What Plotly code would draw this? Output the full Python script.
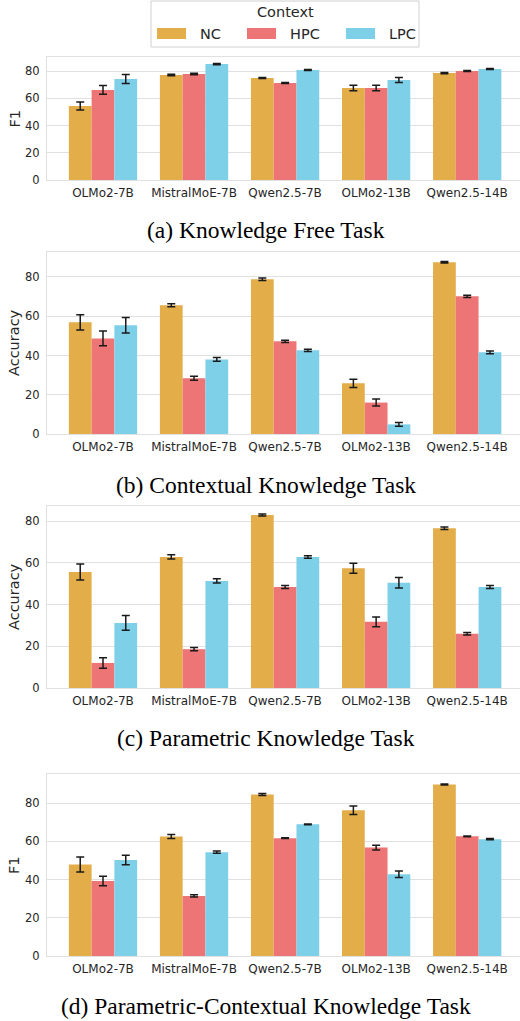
import plotly.graph_objects as go

models = ["OLMo2-7B", "MistralMoE-7B", "Qwen2.5-7B", "OLMo2-13B", "Qwen2.5-14B"]
series = ["NC", "HPC", "LPC"]
colors = {"NC": "#E3AE4A", "HPC": "#ED7576", "LPC": "#7ECFE8"}

# (a) Knowledge Free Task - F1
a_nc = [54.3, 77.1, 74.9, 67.5, 78.5]
a_nc_err = [3.0, 0.6, 0.4, 2.0, 0.5]
a_hpc = [66.1, 77.8, 71.2, 67.5, 80.0]
a_hpc_err = [3.2, 0.5, 0.4, 2.0, 0.4]
a_lpc = [74.1, 85.1, 80.7, 73.4, 81.5]
a_lpc_err = [3.3, 0.4, 0.4, 1.8, 0.4]

# (b) Contextual Knowledge Task - Accuracy
b_nc = [56.9, 65.6, 78.8, 25.8, 87.5]
b_nc_err = [3.9, 0.8, 0.6, 2.1, 0.4]
b_hpc = [48.7, 28.4, 47.2, 16.0, 70.1]
b_hpc_err = [3.8, 1.0, 0.6, 1.8, 0.6]
b_lpc = [55.4, 38.0, 42.6, 4.9, 41.6]
b_lpc_err = [3.9, 1.0, 0.6, 1.0, 0.7]

# (c) Parametric Knowledge Task - Accuracy
c_nc = [55.6, 62.8, 82.9, 57.4, 76.5]
c_nc_err = [3.8, 1.0, 0.5, 2.4, 0.6]
c_hpc = [12.0, 18.6, 48.4, 31.7, 26.0]
c_hpc_err = [2.5, 0.8, 0.7, 2.3, 0.6]
c_lpc = [31.2, 51.3, 62.8, 50.4, 48.4]
c_lpc_err = [3.5, 1.0, 0.6, 2.5, 0.7]

# (d) Parametric-Contextual Knowledge Task - F1
d_nc = [47.9, 62.5, 84.5, 76.2, 89.7]
d_nc_err = [3.9, 1.0, 0.5, 2.2, 0.3]
d_hpc = [39.2, 31.4, 61.6, 56.7, 62.6]
d_hpc_err = [2.5, 0.6, 0.2, 1.2, 0.2]
d_lpc = [50.2, 54.3, 68.9, 42.7, 61.1]
d_lpc_err = [2.5, 0.6, 0.2, 1.7, 0.3]

y_ticks = [0, 20, 40, 60, 80]

panels = [
    dict(vals={"NC": (a_nc, a_nc_err), "HPC": (a_hpc, a_hpc_err), "LPC": (a_lpc, a_lpc_err)},
         ylabel="F1", caption="(a) Knowledge Free Task", top=57, bottom=180, ymax=90.3, cap_y=230),
    dict(vals={"NC": (b_nc, b_nc_err), "HPC": (b_hpc, b_hpc_err), "LPC": (b_lpc, b_lpc_err)},
         ylabel="Accuracy", caption="(b) Contextual Knowledge Task", top=252, bottom=434, ymax=92.7, cap_y=485),
    dict(vals={"NC": (c_nc, c_nc_err), "HPC": (c_hpc, c_hpc_err), "LPC": (c_lpc, c_lpc_err)},
         ylabel="Accuracy", caption="(c) Parametric Knowledge Task", top=506, bottom=688, ymax=87.2, cap_y=738),
    dict(vals={"NC": (d_nc, d_nc_err), "HPC": (d_hpc, d_hpc_err), "LPC": (d_lpc, d_lpc_err)},
         ylabel="F1", caption="(d) Parametric-Contextual Knowledge Task", top=774, bottom=956, ymax=95.2, cap_y=1006),
]

W, H = 520, 1021
x_left_px = 47
TXT = "#262626"
GRID = "#e0e0e0"

fig = go.Figure()
annotations = []
shapes = []
layout_axes = {}

for i, p in enumerate(panels, start=1):
    xa = "x" if i == 1 else f"x{i}"
    ya = "y" if i == 1 else f"y{i}"
    for s in series:
        v, e = p["vals"][s]
        fig.add_trace(go.Bar(
            x=models, y=v, name=s, xaxis=xa, yaxis=ya,
            marker=dict(color=colors[s], line=dict(width=0)),
            offsetgroup=s, showlegend=False,
            error_y=dict(type="data", array=e, color="#1a1a1a", thickness=1.5, width=4),
        ))
    dom = [1 - p["bottom"] / H, 1 - p["top"] / H]
    xkey = "xaxis" if i == 1 else f"xaxis{i}"
    ykey = "yaxis" if i == 1 else f"yaxis{i}"
    layout_axes[xkey] = dict(
        domain=[x_left_px / W, 1.0], anchor=ya, range=[-0.615, 4.58],
        showgrid=False, showline=True, linecolor=GRID, linewidth=1.2, mirror=True,
        ticks="", ticklabelstandoff=1,
        tickfont=dict(family="DejaVu Sans", size=12, color=TXT),
        automargin=False,
    )
    layout_axes[ykey] = dict(
        domain=dom, anchor=xa, range=[0, p["ymax"]], tickvals=y_ticks,
        showgrid=True, gridcolor=GRID, gridwidth=1.2, zeroline=False,
        showline=True, linecolor=GRID, linewidth=1.2, mirror=True,
        ticks="", ticklabelstandoff=4,
        tickfont=dict(family="DejaVu Sans", size=11.5, color=TXT),
        automargin=False,
    )
    annotations.append(dict(
        text=p["ylabel"], xref="paper", yref="paper", x=14 / W,
        y=(dom[0] + dom[1]) / 2, showarrow=False, textangle=-90,
        font=dict(family="DejaVu Sans", size=14.5, color=TXT),
        xanchor="center", yanchor="middle",
    ))
    annotations.append(dict(
        text=p["caption"], xref="paper", yref="paper", x=266 / W,
        y=1 - p["cap_y"] / H, showarrow=False,
        font=dict(family="Liberation Serif", size=23.5, color="black"),
        xanchor="center", yanchor="middle",
    ))

# Legend (manual, matching the seaborn-style legend box)
shapes.append(dict(type="rect", xref="paper", yref="paper",
                   x0=151 / W, x1=419 / W, y0=1 - 47 / H, y1=1 - 1 / H,
                   line=dict(color="#d0d0d0", width=1), fillcolor="white", layer="above"))
annotations.append(dict(text="Context", xref="paper", yref="paper", x=285 / W, y=1 - 12 / H,
                        showarrow=False, font=dict(family="DejaVu Sans", size=14.5, color=TXT),
                        xanchor="center", yanchor="middle"))
leg_x = {"NC": 157, "HPC": 247, "LPC": 346}
for s in series:
    x0 = leg_x[s]
    shapes.append(dict(type="rect", xref="paper", yref="paper",
                       x0=x0 / W, x1=(x0 + 29) / W, y0=1 - 39 / H, y1=1 - 28 / H,
                       line=dict(width=0), fillcolor=colors[s], layer="above"))
    annotations.append(dict(text=s, xref="paper", yref="paper", x=(x0 + 41) / W, y=1 - 34 / H,
                            showarrow=False, font=dict(family="DejaVu Sans", size=14.5, color=TXT),
                            xanchor="left", yanchor="middle"))

fig.update_layout(
    width=W, height=H,
    margin=dict(l=0, r=0, t=0, b=0),
    paper_bgcolor="white", plot_bgcolor="white",
    barmode="group", bargap=0.25, bargroupgap=0,
    annotations=annotations, shapes=shapes,
    showlegend=False,
    **layout_axes,
)

fig.write_html("out.html", config={"displayModeBar": False},
               post_script="document.body.style.margin='0';document.body.style.overflow='hidden';")
